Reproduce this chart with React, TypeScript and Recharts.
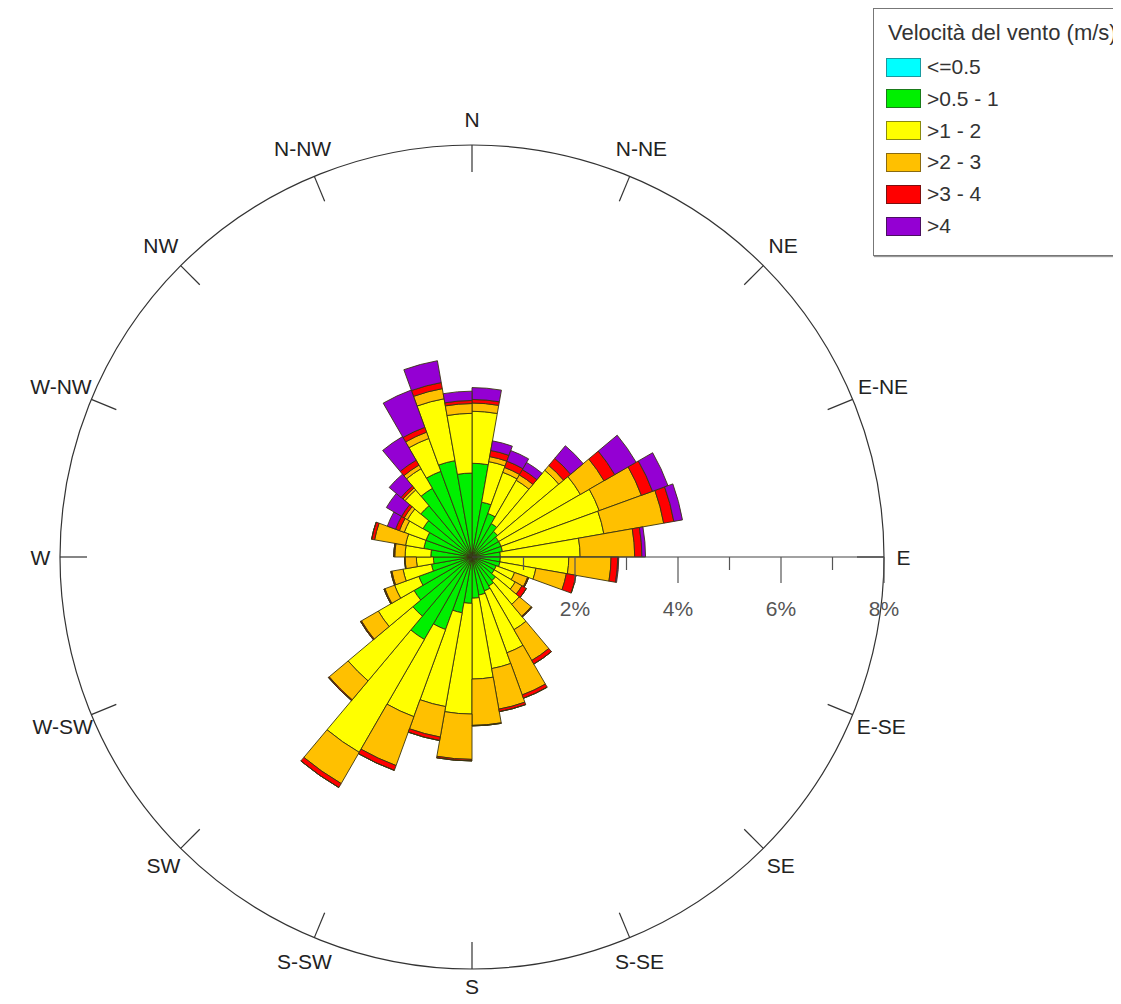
import React from "react";
import {
  RadialBarChart,
  RadialBar,
  PolarAngleAxis,
  PolarRadiusAxis,
} from "recharts";

// 36 direction sectors of 10 degrees, clockwise from north
const directions = [
  "0-10", "10-20", "20-30", "30-40", "40-50", "50-60", "60-70", "70-80", "80-90",
  "90-100", "100-110", "110-120", "120-130", "130-140", "140-150", "150-160", "160-170", "170-180",
  "180-190", "190-200", "200-210", "210-220", "220-230", "230-240", "240-250", "250-260", "260-270",
  "270-280", "280-290", "290-300", "300-310", "310-320", "320-330", "330-340", "340-350", "350-360",
];

// frequency (%) per wind speed class
const calm = [
  0.08, 0.08, 0.08, 0.08, 0.08, 0.08, 0.08, 0.08, 0.08,
  0.08, 0.08, 0.08, 0.08, 0.08, 0.08, 0.08, 0.08, 0.08,
  0.08, 0.08, 0.08, 0.08, 0.08, 0.08, 0.08, 0.08, 0.08,
  0.08, 0.08, 0.08, 0.08, 0.08, 0.08, 0.08, 0.08, 0.08,
];
const speed05to1 = [
  1.74, 1.0, 0.82, 0.67, 0.57, 0.52, 0.52, 0.52, 0.47,
  0.47, 0.47, 0.42, 0.42, 0.52, 0.57, 0.62, 0.67, 0.72,
  0.82, 1.02, 1.42, 1.77, 1.42, 1.22, 1.02, 0.72, 0.67,
  0.72, 0.87, 0.87, 1.02, 1.22, 1.46, 1.69, 1.82, 1.55,
];
const speed1to2 = [
  1.01, 0.8, 0.85, 0.97, 1.55, 1.83, 2.03, 2.0, 1.55,
  1.33, 0.71, 0.38, 0.47, 0.6, 0.98, 1.28, 1.45, 1.57,
  2.15, 1.85, 1.8, 2.53, 1.64, 0.8, 0.5, 0.56, 0.33,
  0.5, 0.36, 0.45, 0.35, 0.4, 0.44, 0.68, 1.22, 1.16,
];
const speed2to3 = [
  0.16, 0.1, 0.1, 0.12, 0.12, 0.53, 0.87, 1.18, 1.06,
  0.82, 0.6, 0.27, 0.15, 0.3, 0.69, 0.87, 0.8, 0.9,
  0.88, 0.6, 1.01, 0.7, 0.48, 0.38, 0.2, 0.22, 0.22,
  0.2, 0.61, 0.1, 0.07, 0.05, 0.08, 0.13, 0.2, 0.19,
];
const speed3to4 = [
  0.07, 0.12, 0.13, 0.12, 0.18, 0.24, 0.23, 0.2, 0.14,
  0.13, 0.19, 0.02, 0.1, 0.02, 0.08, 0.07, 0.05, 0.01,
  0.03, 0.07, 0.1, 0.09, 0.02, 0.02, 0.02, 0.02, 0.01,
  0.02, 0.06, 0.08, 0.06, 0.05, 0.11, 0.1, 0.12, 0.06,
];
const speedOver4 = [
  0.23, 0.19, 0.22, 0.16, 0.32, 0.48, 0.32, 0.17, 0.07,
  0.02, 0, 0, 0, 0, 0, 0, 0, 0,
  0, 0, 0, 0, 0, 0, 0, 0, 0,
  0, 0, 0.17, 0.34, 0.3, 0.53, 0.77, 0.43, 0.18,
];

const speedClasses = [
  { key: "calm", name: "<=0.5", color: "#00FFFF", border: "#1a9aa0", values: calm },
  { key: "s1", name: ">0.5 - 1", color: "#00F000", border: "#1a7a1a", values: speed05to1 },
  { key: "s2", name: ">1 - 2", color: "#FFFF00", border: "#8a8a10", values: speed1to2 },
  { key: "s3", name: ">2 - 3", color: "#FFC000", border: "#8a6a10", values: speed2to3 },
  { key: "s4", name: ">3 - 4", color: "#FF0000", border: "#7a1010", values: speed3to4 },
  { key: "s5", name: ">4", color: "#9400D3", border: "#4a1060", values: speedOver4 },
];

const compassLabels = [
  "N", "N-NE", "NE", "E-NE", "E", "E-SE", "SE", "S-SE",
  "S", "S-SW", "SW", "W-SW", "W", "W-NW", "NW", "N-NW",
];
const compassAngles = [
  0, 22.5, 45, 67.5, 90, 112.5, 135, 157.5,
  180, 202.5, 225, 247.5, 270, 292.5, 315, 337.5,
];
const radiusTicks = [0, 1, 2, 3, 4, 5, 6, 7, 8];

const data = directions.map((dir, i) => {
  const row: Record<string, string | number> = { dir };
  speedClasses.forEach((c) => {
    row[c.key] = c.values[i];
  });
  return row;
});

const FONT = '"Liberation Sans", Arial, sans-serif';
const CX = 464;
const CY = 549;
const OUTER = 412;
const HEIGHT = 988;

// compass point ticks: bearing in degrees clockwise from north
const CompassTick = (props: any) => {
  const { payload } = props;
  const bearing = Number(payload.value);
  const idx = compassAngles.indexOf(bearing);
  const label = idx >= 0 ? compassLabels[idx] : "";
  const rad = (bearing * Math.PI) / 180;
  const ux = Math.sin(rad);
  const uy = -Math.cos(rad);
  const r = OUTER;
  const halfW = label.length * 6;
  const vert = uy < 0 ? 10 : 5;
  const rl = r + 16 + 0.59 * halfW * Math.abs(ux) + vert * Math.abs(uy);
  // keep the bottom label inside the page
  const ty = Math.min(CY + uy * rl, HEIGHT - 10);
  return (
    <g>
      <line
        x1={CX + ux * r}
        y1={CY + uy * r}
        x2={CX + ux * (r - 27)}
        y2={CY + uy * (r - 27)}
        stroke="#333"
        strokeWidth={1.2}
      />
      <text
        x={CX + ux * rl}
        y={ty}
        textAnchor="middle"
        dominantBaseline="central"
        fontFamily={FONT}
        fontSize={21}
        fill="#222"
      >
        {label}
      </text>
    </g>
  );
};

const RadiusTick = (props: any) => {
  const { x, y, payload } = props;
  const v = payload.value;
  if (v === 0) return <g />;
  const major = v % 2 === 0;
  return (
    <g>
      <line x1={x} y1={y} x2={x} y2={y + (major ? 26 : 13)} stroke="#555" strokeWidth={1.2} />
      {major && (
        <text
          x={x}
          y={y + 51}
          textAnchor="middle"
          dominantBaseline="central"
          fontFamily={FONT}
          fontSize={21}
          fill="#555"
        >
          {v}%
        </text>
      )}
    </g>
  );
};

const WindLegend = () => (
  <div
    style={{
      position: "absolute",
      left: 865,
      top: 0,
      width: 300,
      height: 246,
      border: "1px solid #777",
      boxShadow: "1px 1px 1px #999",
      background: "#fff",
      fontFamily: FONT,
      color: "#333",
    }}
  >
    <div style={{ position: "absolute", left: 14, top: 13, fontSize: 22, lineHeight: "22px", whiteSpace: "nowrap" }}>
      Velocità del vento (m/s)
    </div>
    {speedClasses.map((c, i) => (
      <div key={c.key} style={{ position: "absolute", left: 12, top: 48 + i * 31.8, height: 20, display: "flex", alignItems: "center" }}>
        <div
          style={{
            width: 33,
            height: 17,
            background: c.color,
            border: `1.5px solid ${c.border}`,
          }}
        />
        <span style={{ marginLeft: 6, fontSize: 21, lineHeight: "20px" }}>{c.name}</span>
      </div>
    ))}
  </div>
);

const App = () => {
  return (
    <div style={{ position: "relative", width: 1113, height: HEIGHT, overflow: "hidden" }}>
      <RadialBarChart
        width={1113}
        height={HEIGHT}
        data={data}
        layout="centric"
        cx={CX}
        cy={CY}
        innerRadius={0}
        outerRadius={OUTER}
        startAngle={80}
        endAngle={-280}
        barCategoryGap={0}
        barGap={0}
        margin={{ top: 0, right: 0, bottom: 0, left: 0 }}
      >
        <PolarAngleAxis dataKey="dir" type="category" tick={false} tickLine={false} axisLine={false} />
        <PolarAngleAxis
          angleAxisId="compass"
          type="number"
          domain={[0, 360]}
          ticks={compassAngles}
          axisLineType="circle"
          axisLine={{ stroke: "#333", strokeWidth: 1.2 }}
          tickLine={false}
          tick={CompassTick}
        />
        {speedClasses.map((c) => (
          <RadialBar
            key={c.key}
            dataKey={c.key}
            name={c.name}
            stackId="speed"
            fill={c.color}
            stroke="#3a3410"
            strokeWidth={0.9}
            isAnimationActive={false}
          />
        ))}
        <PolarRadiusAxis
          type="number"
          domain={[0, 8]}
          ticks={radiusTicks}
          angle={0}
          axisLine={{ stroke: "#444", strokeWidth: 1.2 }}
          tick={RadiusTick}
        />
      </RadialBarChart>
      <WindLegend />
    </div>
  );
};

export default App;
